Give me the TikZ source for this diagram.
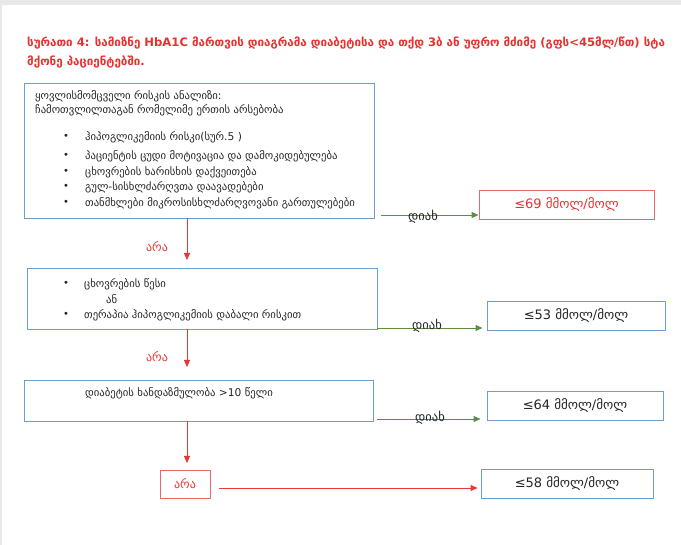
\documentclass[tikz,border=0pt]{standalone}
\usepackage{fontspec}
\setmainfont{DejaVu Sans}
\usetikzlibrary{arrows.meta,calc}
\definecolor{tred}{HTML}{E8312F}
\definecolor{ared}{HTML}{E53935}
\definecolor{agreen}{HTML}{5B8F3E}
\definecolor{bblue}{HTML}{6A9FD4}
\definecolor{rbord}{HTML}{E86A6A}
\definecolor{txt}{HTML}{262626}
\definecolor{edgegray}{HTML}{E8E8E8}
\begin{document}
\begin{tikzpicture}[x=1pt,y=-1pt,
 bluebox/.style={draw=bblue, line width=0.9pt, fill=white, inner sep=0},
 redbox/.style={draw=rbord, line width=0.9pt, fill=white, inner sep=0},
 title/.style={font=\fontsize{11.6}{14}\bfseries\selectfont, text=tred, anchor=west, inner sep=0},
 body/.style={font=\fontsize{10.7}{12}\selectfont, text=txt, anchor=west, inner sep=0},
 bul/.style={font=\fontsize{10}{12}\selectfont, text=txt, inner sep=0},
 val/.style={font=\fontsize{13}{15}\selectfont, text=txt},
 garrow/.style={draw=agreen, line width=0.9pt, -{Triangle[length=7pt,width=6pt]}},
 rarrow/.style={draw=ared, line width=0.9pt, -{Triangle[length=7pt,width=6pt]}},
 yes/.style={font=\fontsize{12.5}{14}\selectfont, text=txt, inner sep=0},
 no/.style={font=\fontsize{12}{14}\selectfont, text=ared, inner sep=0},
]
\fill[edgegray] (0,0) rectangle (681,545);
\fill[white] (2,5) rectangle (681,545);
\useasboundingbox (0,0) rectangle (681,545);

\node[title] (t1) at (27,43) {სურათი 4: სამიზნე HbA1C მართვის დიაგრამა დიაბეტისა და თქდ 3ბ ან უფრო მძიმე (გფს<45მლ/წთ) სტა};
\node[title] (t2) at (27,62) {მქონე პაციენტებში.};

% boxes
\node[bluebox, minimum width=350, minimum height=135] (b1) at (199,150.5) {};
\node[redbox, minimum width=175, minimum height=29, font=\fontsize{13}{15}\selectfont, text=tred] (r1) at (566.5,204.5) {≤69 მმოლ/მოლ};
\node[bluebox, minimum width=350, minimum height=61] (b2) at (202,298.5) {};
\node[bluebox, minimum width=178, minimum height=29, val] (v2) at (576,315.5) {≤53 მმოლ/მოლ};
\node[bluebox, minimum width=349, minimum height=41] (b3) at (198.5,400.5) {};
\node[bluebox, minimum width=176, minimum height=29, val] (v3) at (575,405.5) {≤64 მმოლ/მოლ};
\node[redbox, minimum width=50, minimum height=28, font=\fontsize{12}{14}\selectfont, text=ared] (n4) at (185,484) {არა};
\node[bluebox, minimum width=172, minimum height=29, val] (v4) at (567,483.5) {≤58 მმოლ/მოლ};

% box 1 text
\node[body] (l1) at (35,96) {ყოვლისმომცველი რისკის ანალიზი:};
\node[body] (l2) at (35,110) {ჩამოთვლილთაგან რომელიმე ერთის არსებობა};
\node[bul] (p1) at (66,137) {•};
\node[body] (i1) at (85,137) {ჰიპოგლიკემიის რისკი(სურ.5 )};
\node[bul] (p2) at (66,156) {•};
\node[body] (i2) at (85,156) {პაციენტის ცუდი მოტივაცია და დამოკიდებულება};
\node[bul] (p3) at (66,172) {•};
\node[body] (i3) at (85,172) {ცხოვრების ხარისხის დაქვეითება};
\node[bul] (p4) at (66,187) {•};
\node[body] (i4) at (85,187) {გულ-სისხლძარღვთა დაავადებები};
\node[bul] (p5) at (66,203) {•};
\node[body] (i5) at (85,203) {თანმხლები მიკროსისხლძარღვოვანი გართულებები};

% box 2 text
\node[bul] (q1) at (66,284) {•};
\node[body] (j1) at (84,284) {ცხოვრების წესი};
\node[body] (j2) at (106,299) {ან};
\node[bul] (q2) at (66,315) {•};
\node[body] (j3) at (84,315) {თერაპია  ჰიპოგლიკემიის დაბალი რისკით};

% box 3 text
\node[body] (k1) at (85,393) {დიაბეტის ხანდაზმულობა >10 წელი};

% connectors
\coordinate (d1) at (187,260);
\coordinate (d2) at (187,367);
\coordinate (d3) at (187,463);
\draw[rarrow] (d1 |- b1.south) -- (d1);
\draw[rarrow] (d2 |- b2.south) -- (d2);
\draw[rarrow] (d3 |- b3.south) -- (d3);
\coordinate (h4) at (219,488);
\draw[rarrow, shorten >=3pt] (h4) -- (h4 -| v4.west);

\coordinate (g1) at (381,215);
\coordinate (g2) at (377,328);
\coordinate (g3) at (377,419);
\draw[garrow] (g1) -- (g1 -| r1.west);
\draw[garrow, shorten >=4pt] (g2) -- (g2 -| v2.west);
\draw[garrow, shorten >=6pt] (g3) -- (g3 -| v3.west);

% labels
\node[yes] (y1) at (423,217) {დიახ};
\node[yes] (y2) at (427,326) {დიახ};
\node[yes] (y3) at (430,418) {დიახ};
\node[no] (a1) at (157,247) {არა};
\node[no] (a2) at (157,357) {არა};
\end{tikzpicture}
\end{document}
